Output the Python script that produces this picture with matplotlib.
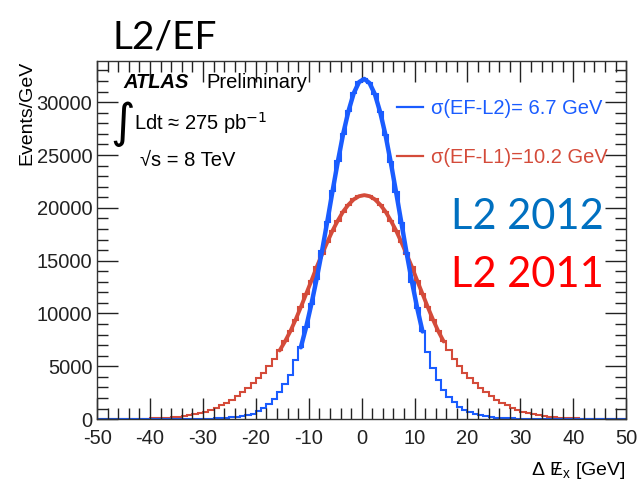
import numpy as np
import matplotlib.pyplot as plt
from matplotlib.lines import Line2D
from matplotlib.ticker import MultipleLocator

plt.rcParams['font.family'] = ['Liberation Sans', 'DejaVu Sans']
plt.rcParams['axes.unicode_minus'] = False

# bin edges of the histograms, 1 GeV wide
edges = np.arange(-50, 51, 1)

# Events/GeV per bin (bins -50..49)
l2_2012 = [0, 0, 1, 1, 1, 1, 2, 2, 3, 4, 5, 6, 7, 9, 11, 14, 18, 23, 29, 36,
           45, 56, 72, 95, 125, 165, 215, 285, 380, 530, 790, 1070, 1480, 1950, 2580,
           3360, 4150, 5570, 6800, 8700, 10900, 13300, 15900, 18700, 21600, 24400,
           27000, 29150, 30850, 31900,
           32200, 31800, 30750, 29050, 26900, 24300, 21500, 18600, 15700, 13000,
           10500, 8300, 6400, 4800, 3700, 2770, 2140, 1670, 1190, 880, 630, 470, 350,
           260, 195, 145, 110, 85, 65, 50, 40, 32, 25, 20, 16, 13, 10, 8, 6, 5, 4, 3,
           3, 2, 2, 1, 1, 1, 1, 0]

l2_2011 = [8, 10, 13, 16, 20, 25, 30, 38, 48, 60, 75, 95, 120, 150, 190, 240, 300,
           380, 470, 580, 720, 880, 1080, 1300, 1550, 1850, 2200, 2550, 2950, 3400,
           3900, 4400, 5000, 5700, 6500, 7350, 8300, 9400, 10600, 11850, 13100, 14400,
           15600, 16750, 17850, 18800, 19650, 20300, 20800, 21100,
           21200, 21100, 20800, 20300, 19650, 18800, 17850, 16750, 15600, 14400,
           13100, 11850, 10600, 9400, 8300, 7350, 6500, 5700, 5000, 4400, 3900, 3400,
           2950, 2550, 2200, 1850, 1550, 1300, 1080, 880, 720, 580, 470, 380, 300,
           240, 190, 150, 120, 95, 75, 60, 48, 38, 30, 25, 20, 16, 13, 10]

# gaussian fit ranges
fit_2012 = (-12, 12)
fit_2011 = (-15.5, 15.5)

labels = ['\u03c3(EF-L2)= 6.7 GeV', '\u03c3(EF-L1)=10.2 GeV']

blue = '#1a5cff'
red = '#d44b3a'

fig = plt.figure(figsize=(6.39, 4.84), dpi=100)
ax = fig.add_axes([0.152, 0.134, 0.828, 0.740])

centers = (edges[:-1] + edges[1:]) / 2
b = np.array(l2_2012)
r = np.array(l2_2011)

ax.stairs(r, edges, color=red, lw=1.5)
ax.stairs(b, edges, color=blue, lw=1.5)

m = (centers >= fit_2011[0]) & (centers <= fit_2011[1])
ax.plot(centers[m], r[m], color=red, lw=2.8, solid_capstyle='round')
m = (centers >= fit_2012[0]) & (centers <= fit_2012[1])
ax.plot(centers[m], b[m], color=blue, lw=3.2, solid_capstyle='round')

ax.set_xlim(-50, 50)
ax.set_ylim(0, 33900)
ax.xaxis.set_major_locator(MultipleLocator(10))
ax.xaxis.set_minor_locator(MultipleLocator(2))
ax.yaxis.set_major_locator(MultipleLocator(5000))
ax.yaxis.set_minor_locator(MultipleLocator(1000))
ax.tick_params(which='both', direction='in', top=True, right=True,
               labelsize=14.5, colors='#222222', width=1)
ax.tick_params(which='major', length=15)
ax.tick_params(axis='x', which='major', pad=7)
ax.tick_params(which='minor', length=8)
for s in ax.spines.values():
    s.set_color('#333333')
    s.set_linewidth(1)

ax.set_ylabel('Events/GeV', fontsize=14, loc='top', labelpad=1)
# missing E_T style symbol: slash drawn over the E
ax.set_xlabel('$\\mathregular{\\Delta\\ \\,/\\!\\!\\!E_x}$ [GeV]', fontsize=14,
              loc='right', labelpad=9)

handles = [Line2D([], [], color=blue, lw=1.6), Line2D([], [], color=red, lw=1.6)]
leg = ax.legend(handles, labels, loc='upper left', bbox_to_anchor=(0.566, 0.895),
                frameon=False, fontsize=14.5, handlelength=1.3, handletextpad=0.4,
                labelspacing=1.5, borderpad=0, borderaxespad=0)
leg.get_texts()[0].set_color(blue)
leg.get_texts()[1].set_color(red)

# ATLAS label block
fig.text(123 / 639, 1 - 82 / 484, 'ATLAS', fontsize=14.5, fontweight='bold',
         fontstyle='italic', va='center')
fig.text(206 / 639, 1 - 82 / 484, 'Preliminary', fontsize=14.5, va='center')
fig.text(110 / 639, 1 - 124 / 484, '\u222b', fontsize=34, va='center',
         family='DejaVu Sans')
fig.text(134 / 639, 1 - 123 / 484, 'Ldt \u2248 275 pb$^{-1}$', fontsize=14.5, va='center')
fig.text(140 / 639, 1 - 160 / 484, '\u221as = 8 TeV', fontsize=14.5, va='center')

# slide annotations
fig.text(112 / 639, 1 - 37 / 484, 'L2/EF', fontsize=28, family='Lato', va='center')
fig.text(451 / 639, 1 - 217 / 484, 'L2 2012', fontsize=30, family='Lato',
         color='#0070c0', va='center')
fig.text(451 / 639, 1 - 275 / 484, 'L2 2011', fontsize=30, family='Lato',
         color='#ff0000', va='center')

fig.savefig('out.png', dpi=100)
